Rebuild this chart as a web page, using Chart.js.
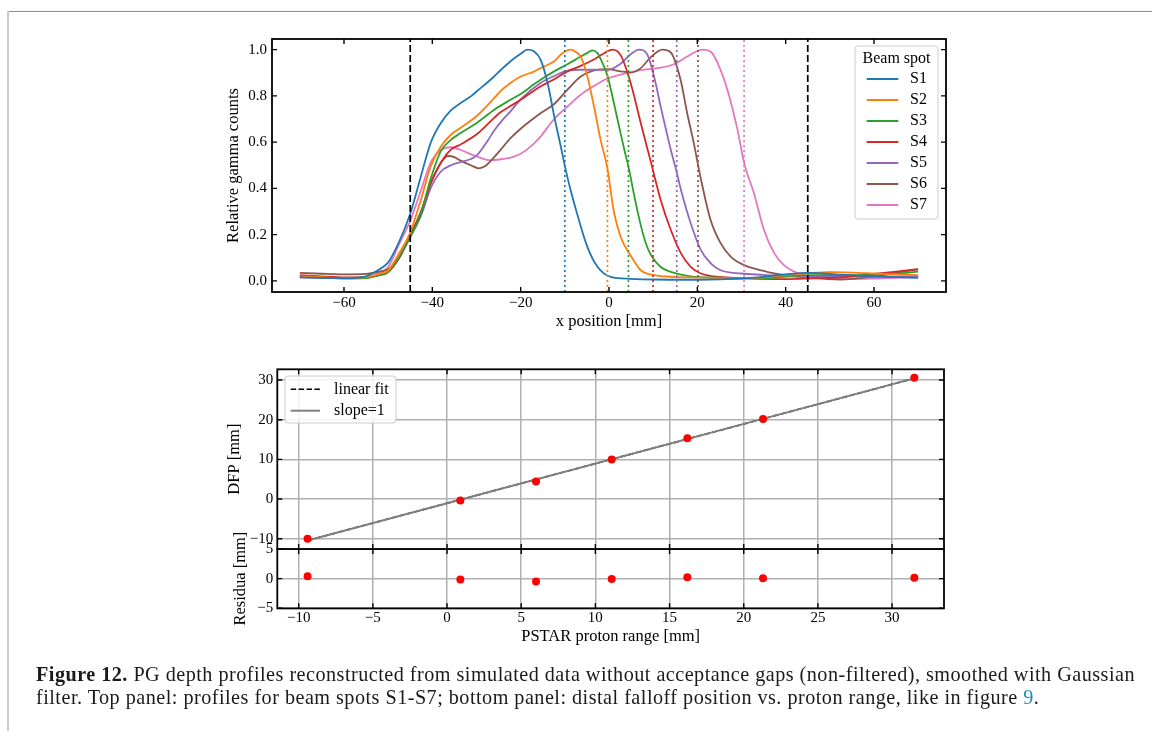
<!DOCTYPE html>
<html><head><meta charset="utf-8">
<script src="https://cdn.jsdelivr.net/npm/chart.js@4.4.1/dist/chart.umd.min.js"></script>
<style>
html,body{margin:0;padding:0;background:#fff;}
body{width:1152px;height:731px;position:relative;overflow:hidden;}
canvas{position:absolute;left:0;top:0;}
#fTop{position:absolute;left:7px;top:11px;width:1145px;height:1px;background:#8c8c8c;}
#fLeft{position:absolute;left:7px;top:11px;width:2px;height:720px;background:#cacaca;}
.cap{position:absolute;left:36px;font-family:'Liberation Serif',serif;font-size:20.2px;line-height:22.7px;color:#1a1a1a;white-space:nowrap;}
.cap a{color:#1b8bc5;text-decoration:none;}
</style></head><body>
<div id="fTop"></div><div id="fLeft"></div>
<canvas id="cTop" width="1152" height="731"></canvas>
<canvas id="cDfp" width="1152" height="731"></canvas>
<canvas id="cRes" width="1152" height="731"></canvas>
<div class="cap" id="cap1" style="top:663.3px"><span id="l1"><b>Figure 12.</b> PG depth profiles reconstructed from simulated data without acceptance gaps (non-filtered), smoothed with Gaussian</span></div>
<div class="cap" id="cap2" style="top:686px"><span id="l2">filter. Top panel: profiles for beam spots S1-S7; bottom panel: distal falloff position vs. proton range, like in figure <a>9</a>.</span></div>
<script>
// ---------------- data ----------------
const seriesNames = ['S1','S2','S3','S4','S5','S6','S7'];
const seriesColors = ['#1f77b4','#ff7f0e','#2ca02c','#d62728','#9467bd','#8c564b','#e377c2'];

const s1x = [-70,-65,-60,-55,-52,-50,-47.5,-45,-42.6,-40.4,-38.1,-35.8,-33.6,-31.3,-29.8,-26,-24.5,-22.3,-20,-18.5,-17,-15.5,-13.9,-12.4,-10.9,-9.8,-8.7,-7.2,-4.9,-2.6,0.4,4.8,10,20,30,35,40,45,52.5,60,70];
const s1y = [0.015,0.013,0.012,0.02,0.05,0.08,0.17,0.29,0.451,0.596,0.682,0.737,0.769,0.798,0.822,0.884,0.912,0.95,0.982,1.0,0.993,0.957,0.856,0.711,0.58,0.48,0.393,0.289,0.147,0.061,0.017,0.009,0.006,0.005,0.01,0.018,0.028,0.035,0.027,0.02,0.013];

const s2x = [-70,-65,-60,-55,-52,-50,-47.5,-45,-42.6,-40.4,-38.1,-35.8,-33.6,-29.8,-26,-24.5,-22.3,-20,-17,-15.5,-12.4,-10.5,-8.7,-7.5,-6.4,-4.9,-3.4,-1.9,-0.4,1.1,2.65,4.9,7.2,10.2,14,18,25,30,35,40,45,50,55,60,65,70];
const s2y = [0.02,0.016,0.012,0.016,0.03,0.045,0.12,0.21,0.35,0.494,0.58,0.632,0.662,0.715,0.79,0.822,0.856,0.884,0.905,0.92,0.95,0.985,1.0,0.99,0.97,0.885,0.754,0.61,0.49,0.3,0.19,0.11,0.046,0.025,0.018,0.015,0.012,0.01,0.015,0.025,0.033,0.038,0.036,0.032,0.028,0.025];

const s3x = [-70,-65,-60,-55,-52,-50,-47.5,-45,-42.6,-40.4,-38.1,-35.8,-33.6,-29.8,-26,-22.3,-20,-17,-15.5,-12.4,-9.4,-6.4,-5,-3.8,-2.6,-1.9,-0.4,1.1,2.6,3.5,4.5,5.8,7.2,8.3,9.4,11.7,14,18.5,25,35,45,52.5,60,65,70];
const s3y = [0.02,0.015,0.01,0.012,0.025,0.038,0.105,0.19,0.29,0.44,0.56,0.61,0.639,0.685,0.74,0.783,0.808,0.85,0.87,0.906,0.937,0.97,0.985,0.997,0.985,0.96,0.89,0.77,0.64,0.565,0.485,0.36,0.24,0.165,0.115,0.06,0.039,0.02,0.014,0.012,0.025,0.025,0.025,0.03,0.04];

const s4x = [-70,-65,-60,-55,-52,-50,-47.5,-45,-42.6,-40.4,-38.1,-35.8,-33.6,-29.8,-26,-24.5,-22.3,-20,-15.5,-12.4,-9.4,-6.4,-3.4,-1.5,0.8,2.65,4.9,7.2,9.4,11.7,14,16.3,18.5,20.8,25.3,32,40,45,52.5,60,65,70];
const s4y = [0.025,0.02,0.015,0.015,0.025,0.038,0.1,0.195,0.29,0.42,0.51,0.568,0.59,0.636,0.705,0.73,0.756,0.783,0.841,0.872,0.906,0.93,0.957,0.98,1.0,0.975,0.856,0.682,0.52,0.35,0.22,0.119,0.061,0.032,0.017,0.01,0.008,0.01,0.015,0.03,0.04,0.051];

const s5x = [-70,-65,-60,-55,-52,-50,-47.5,-45,-42.6,-40.4,-38.1,-35.8,-33.6,-31.3,-29.8,-27.5,-26,-23.8,-22.3,-20,-15.5,-12.4,-9.4,-6.4,-3.4,-0.4,2.65,4.9,6.8,8.7,10.2,11.7,14,15.2,16.3,18.5,20.8,23.1,25.3,29.9,35,40,45,52.5,60,70];
const s5y = [0.02,0.016,0.012,0.014,0.025,0.038,0.1,0.19,0.28,0.4,0.472,0.5,0.514,0.527,0.545,0.605,0.65,0.703,0.733,0.785,0.856,0.886,0.909,0.913,0.913,0.912,0.94,0.98,1.0,0.978,0.884,0.754,0.566,0.48,0.393,0.249,0.133,0.075,0.046,0.032,0.026,0.02,0.018,0.02,0.018,0.02];

const s6x = [-70,-65,-60,-55,-52,-50,-47.5,-45,-42.6,-40.4,-38.1,-36.5,-35,-33.6,-31.3,-29.5,-28,-26,-24.5,-22.3,-20,-15.5,-12.4,-9.4,-6.4,-3.4,-0.4,2.65,4.9,7.2,9.4,12.1,13.9,16.2,17.7,19.2,20.7,23,25.3,27.6,30.6,34.4,37.4,44.9,52.5,60,65,70];
const s6y = [0.035,0.031,0.028,0.03,0.04,0.05,0.1,0.2,0.3,0.42,0.51,0.54,0.535,0.52,0.5,0.487,0.497,0.535,0.568,0.617,0.658,0.725,0.765,0.827,0.884,0.91,0.916,0.906,0.901,0.92,0.966,1.0,0.99,0.87,0.725,0.596,0.45,0.263,0.162,0.104,0.068,0.046,0.032,0.015,0.006,0.02,0.035,0.05];

const s7x = [-70,-65,-60,-55,-52,-50,-47.5,-45,-42.6,-40.4,-38.1,-35.8,-33.6,-29.8,-27,-24.5,-22.3,-20,-17.5,-15.5,-12.4,-9.4,-6.4,-3.4,-0.4,2.65,7.2,11.7,14.7,17.8,19.5,21.3,23.1,24.6,26.8,29.1,30.6,32.8,35.1,37.4,39.6,41.9,44.9,50,55,60,65,70];
const s7y = [0.015,0.013,0.012,0.015,0.035,0.06,0.16,0.26,0.39,0.51,0.566,0.578,0.566,0.537,0.522,0.526,0.533,0.55,0.585,0.624,0.7,0.754,0.805,0.843,0.875,0.892,0.911,0.922,0.937,0.971,0.99,1.0,0.99,0.942,0.827,0.653,0.51,0.38,0.22,0.12,0.068,0.04,0.022,0.012,0.008,0.01,0.013,0.016];

const profX = [s1x,s2x,s3x,s4x,s5x,s6x,s7x];
const profY = [s1y,s2y,s3y,s4y,s5y,s6y,s7y];

const acceptLimits = [-45, 45];
const dfp = [-10.0, -0.35, 4.4, 9.97, 15.34, 20.15, 30.58];
const pstar = [-9.4, 0.9, 6.0, 11.1, 16.2, 21.3, 31.5];
const residua = [0.42, -0.15, -0.5, -0.05, 0.23, 0.06, 0.17];
const fitX = [-9.4, 31.5];
const fitY = [-10.45, 30.4];
const slope1X = [-9.4, 31.5];
const slope1Y = [-10.48, 30.42];

const topXTicks = [-60,-40,-20,0,20,40,60];
const topYTicks = [0,0.2,0.4,0.6,0.8,1.0];
const pstarTicks = [-10,-5,0,5,10,15,20,25,30];
const dfpTicks = [-10,0,10,20,30];
const resTicks = [-5,0,5];

// ---------------- helpers ----------------
const FONT = 'Liberation Serif';
const MINUS = '\u2212';
const fmtInt = v => (v < 0 ? MINUS + Math.abs(v) : String(v));
const fmt1 = v => (v < 0 ? MINUS : '') + Math.abs(v).toFixed(1);
const fixTicks = arr => s => { s.ticks = arr.map(v => ({value: v})); };
const tickFont = {family: FONT, size: 15};
const titleFont = {family: FONT, size: 16.5};

const frame = {
  id: 'frame',
  afterDraw(chart, args, o) {
    const {ctx, chartArea: a, scales: {x, y}} = chart;
    const L = o.len || 5;
    ctx.save();
    ctx.strokeStyle = '#000';
    ctx.lineWidth = 1.4;
    ctx.beginPath();
    x.ticks.forEach(t => {
      const p = x.getPixelForValue(t.value);
      ctx.moveTo(p, a.bottom); ctx.lineTo(p, a.bottom - L);
      ctx.moveTo(p, a.top); ctx.lineTo(p, a.top + L);
    });
    y.ticks.forEach(t => {
      const p = y.getPixelForValue(t.value);
      ctx.moveTo(a.left, p); ctx.lineTo(a.left + L, p);
      ctx.moveTo(a.right, p); ctx.lineTo(a.right - L, p);
    });
    ctx.stroke();
    ctx.lineWidth = 1.8;
    ctx.strokeRect(a.left, a.top, a.right - a.left, a.bottom - a.top);
    ctx.restore();
  }
};

const vlines = {
  id: 'vlines',
  afterDatasetsDraw(chart, args, o) {
    const {ctx, chartArea: a, scales: {x}} = chart;
    ctx.save();
    ctx.beginPath(); ctx.rect(a.left, a.top, a.right - a.left, a.bottom - a.top); ctx.clip();
    o.lines.forEach(l => {
      const p = x.getPixelForValue(l.value);
      ctx.strokeStyle = l.color; ctx.lineWidth = l.width; ctx.setLineDash(l.dash);
      ctx.beginPath(); ctx.moveTo(p, a.bottom); ctx.lineTo(p, a.top); ctx.stroke();
    });
    ctx.restore();
  }
};

const boxLegend = {
  id: 'boxLegend',
  afterDraw(chart, args, o) {
    const {ctx, chartArea: a} = chart;
    const bx = o.anchor === 'right' ? a.right - o.dx - o.w : a.left + o.dx;
    const by = a.top + o.dy;
    ctx.save();
    ctx.beginPath();
    ctx.roundRect(bx, by, o.w, o.h, 3);
    ctx.fillStyle = 'rgba(255,255,255,0.85)'; ctx.fill();
    ctx.strokeStyle = '#cccccc'; ctx.lineWidth = 1; ctx.stroke();
    ctx.font = '16px "' + FONT + '"';
    ctx.fillStyle = '#000';
    ctx.textBaseline = 'middle';
    if (o.title) { ctx.textAlign = 'center'; ctx.fillText(o.title, bx + o.w / 2, by + o.titleY); }
    ctx.textAlign = 'left';
    o.items.forEach((it, i) => {
      const yy = by + o.y0 + o.step * i;
      ctx.strokeStyle = it.color; ctx.lineWidth = it.width; ctx.setLineDash(it.dash || []);
      ctx.beginPath(); ctx.moveTo(bx + o.l0, yy); ctx.lineTo(bx + o.l1, yy); ctx.stroke();
      ctx.fillText(it.text, bx + o.tx, yy);
    });
    ctx.restore();
  }
};

// ---------------- top chart ----------------
new Chart(document.getElementById('cTop'), {
  type: 'line',
  data: {
    datasets: profX.map((xs, i) => ({
      label: seriesNames[i],
      data: xs.map((x, j) => ({x: x, y: profY[i][j]})),
      borderColor: seriesColors[i],
      borderWidth: 1.8,
      pointRadius: 0,
      fill: false,
      cubicInterpolationMode: 'monotone'
    }))
  },
  options: {
    responsive: false, animation: false, events: [],
    layout: {padding: {left: 222, right: 206, top: 39, bottom: 399}},
    plugins: {
      legend: {display: false}, tooltip: {enabled: false},
      vlines: {lines: [
        ...acceptLimits.map(v => ({value: v, color: '#000', width: 1.7, dash: [7, 3]})),
        ...dfp.map((v, i) => ({value: v, color: seriesColors[i], width: 1.7, dash: [2, 3]}))
      ]},
      boxLegend: {anchor: 'right', dx: 8, dy: 7, w: 83, h: 173, title: 'Beam spot', titleY: 12.3,
        y0: 33, step: 21, l0: 11.7, l1: 43.3, tx: 55,
        items: seriesNames.map((n, i) => ({text: n, color: seriesColors[i], width: 1.8}))},
      frame: {len: 5}
    },
    scales: {
      x: {
        type: 'linear', min: -76.3, max: 76.3,
        afterBuildTicks: fixTicks(topXTicks),
        afterFit: s => { s.height = 40; },
        grid: {display: false, drawTicks: false},
        border: {display: false},
        ticks: {font: tickFont, color: '#000', padding: 2.3, maxRotation: 0, autoSkip: false, callback: v => fmtInt(v)},
        title: {display: true, text: 'x position [mm]', font: titleFont, color: '#000', padding: {top: 0, bottom: 0.4}}
      },
      y: {
        type: 'linear', min: -0.048, max: 1.046,
        afterBuildTicks: fixTicks(topYTicks),
        afterFit: s => { s.width = 50; },
        grid: {display: false, drawTicks: false},
        border: {display: false},
        ticks: {font: tickFont, color: '#000', padding: 5, autoSkip: false, callback: v => fmt1(v)},
        title: {display: true, text: 'Relative gamma counts', font: titleFont, color: '#000', padding: {top: 2.1, bottom: 0}}
      }
    }
  },
  plugins: [vlines, boxLegend, frame]
});

// ---------------- DFP chart ----------------
const gridOpt = {color: '#b0b0b0', lineWidth: 1.5, drawTicks: false};
new Chart(document.getElementById('cDfp'), {
  type: 'scatter',
  data: {
    datasets: [
      {label: 'points', data: pstar.map((x, i) => ({x: x, y: dfp[i]})), backgroundColor: '#ff0000', borderWidth: 0, pointRadius: 4, order: 0},
      {label: 'slope=1', data: slope1X.map((x, i) => ({x: x, y: slope1Y[i]})), showLine: true, borderColor: '#808080', borderWidth: 2, pointRadius: 0, order: 1},
      {label: 'linear fit', data: fitX.map((x, i) => ({x: x, y: fitY[i]})), showLine: true, borderColor: '#000', borderDash: [5.5, 2.4], borderWidth: 1.6, pointRadius: 0, order: 2}
    ]
  },
  options: {
    responsive: false, animation: false, events: [],
    layout: {padding: {left: 222.3, right: 208, top: 369.3, bottom: 182}},
    plugins: {
      legend: {display: false}, tooltip: {enabled: false},
      boxLegend: {anchor: 'left', dx: 7.7, dy: 6.7, w: 111, h: 47,
        y0: 13.3, step: 21.4, l0: 5.7, l1: 35, tx: 49,
        items: [{text: 'linear fit', color: '#000', width: 1.6, dash: [5.5, 2.4]}, {text: 'slope=1', color: '#808080', width: 2}]},
      frame: {len: 5}
    },
    scales: {
      x: {
        type: 'linear', min: -11.44, max: 33.5,
        afterBuildTicks: fixTicks(pstarTicks),
        afterFit: s => { s.height = 0; },
        grid: gridOpt, border: {display: false},
        ticks: {display: false}
      },
      y: {
        type: 'linear', min: -12.6, max: 32.7,
        afterBuildTicks: fixTicks(dfpTicks),
        afterFit: s => { s.width = 55; },
        grid: gridOpt, border: {display: false},
        ticks: {font: tickFont, color: '#000', padding: 4, autoSkip: false, callback: v => fmtInt(v)},
        title: {display: true, text: 'DFP [mm]', font: titleFont, color: '#000', padding: {top: 2.3, bottom: 0}}
      }
    }
  },
  plugins: [boxLegend, frame]
});

// ---------------- residual chart ----------------
new Chart(document.getElementById('cRes'), {
  type: 'scatter',
  data: {
    datasets: [
      {label: 'residua', data: pstar.map((x, i) => ({x: x, y: residua[i]})), backgroundColor: '#ff0000', borderWidth: 0, pointRadius: 4}
    ]
  },
  options: {
    responsive: false, animation: false, events: [],
    layout: {padding: {left: 227.3, right: 208, top: 549, bottom: 84.7}},
    plugins: {legend: {display: false}, tooltip: {enabled: false}, frame: {len: 5}},
    scales: {
      x: {
        type: 'linear', min: -11.44, max: 33.5,
        afterBuildTicks: fixTicks(pstarTicks),
        afterFit: s => { s.height = 38; },
        grid: gridOpt, border: {display: false},
        ticks: {font: tickFont, color: '#000', padding: 1, maxRotation: 0, autoSkip: false, callback: v => fmtInt(v)},
        title: {display: true, text: 'PSTAR proton range [mm]', font: titleFont, color: '#000', padding: {top: 0, bottom: 0}}
      },
      y: {
        type: 'linear', min: -5, max: 5,
        afterBuildTicks: fixTicks(resTicks),
        afterFit: s => { s.width = 50; },
        grid: gridOpt, border: {display: false},
        ticks: {font: tickFont, color: '#000', padding: 4, autoSkip: false, callback: v => fmtInt(v)},
        title: {display: true, text: 'Residua [mm]', font: titleFont, color: '#000', padding: {top: 3.3, bottom: 0}}
      }
    }
  },
  plugins: [frame]
});

// fit caption line width to the reference
(function () {
  const l1 = document.getElementById('l1');
  const w = l1.getBoundingClientRect().width;
  const target = 1099;
  const n = l1.textContent.length;
  const ls = (target - w) / n;
  document.getElementById('cap1').style.letterSpacing = ls + 'px';
  document.getElementById('cap2').style.letterSpacing = ls + 'px';
})();
</script>
</body></html>
